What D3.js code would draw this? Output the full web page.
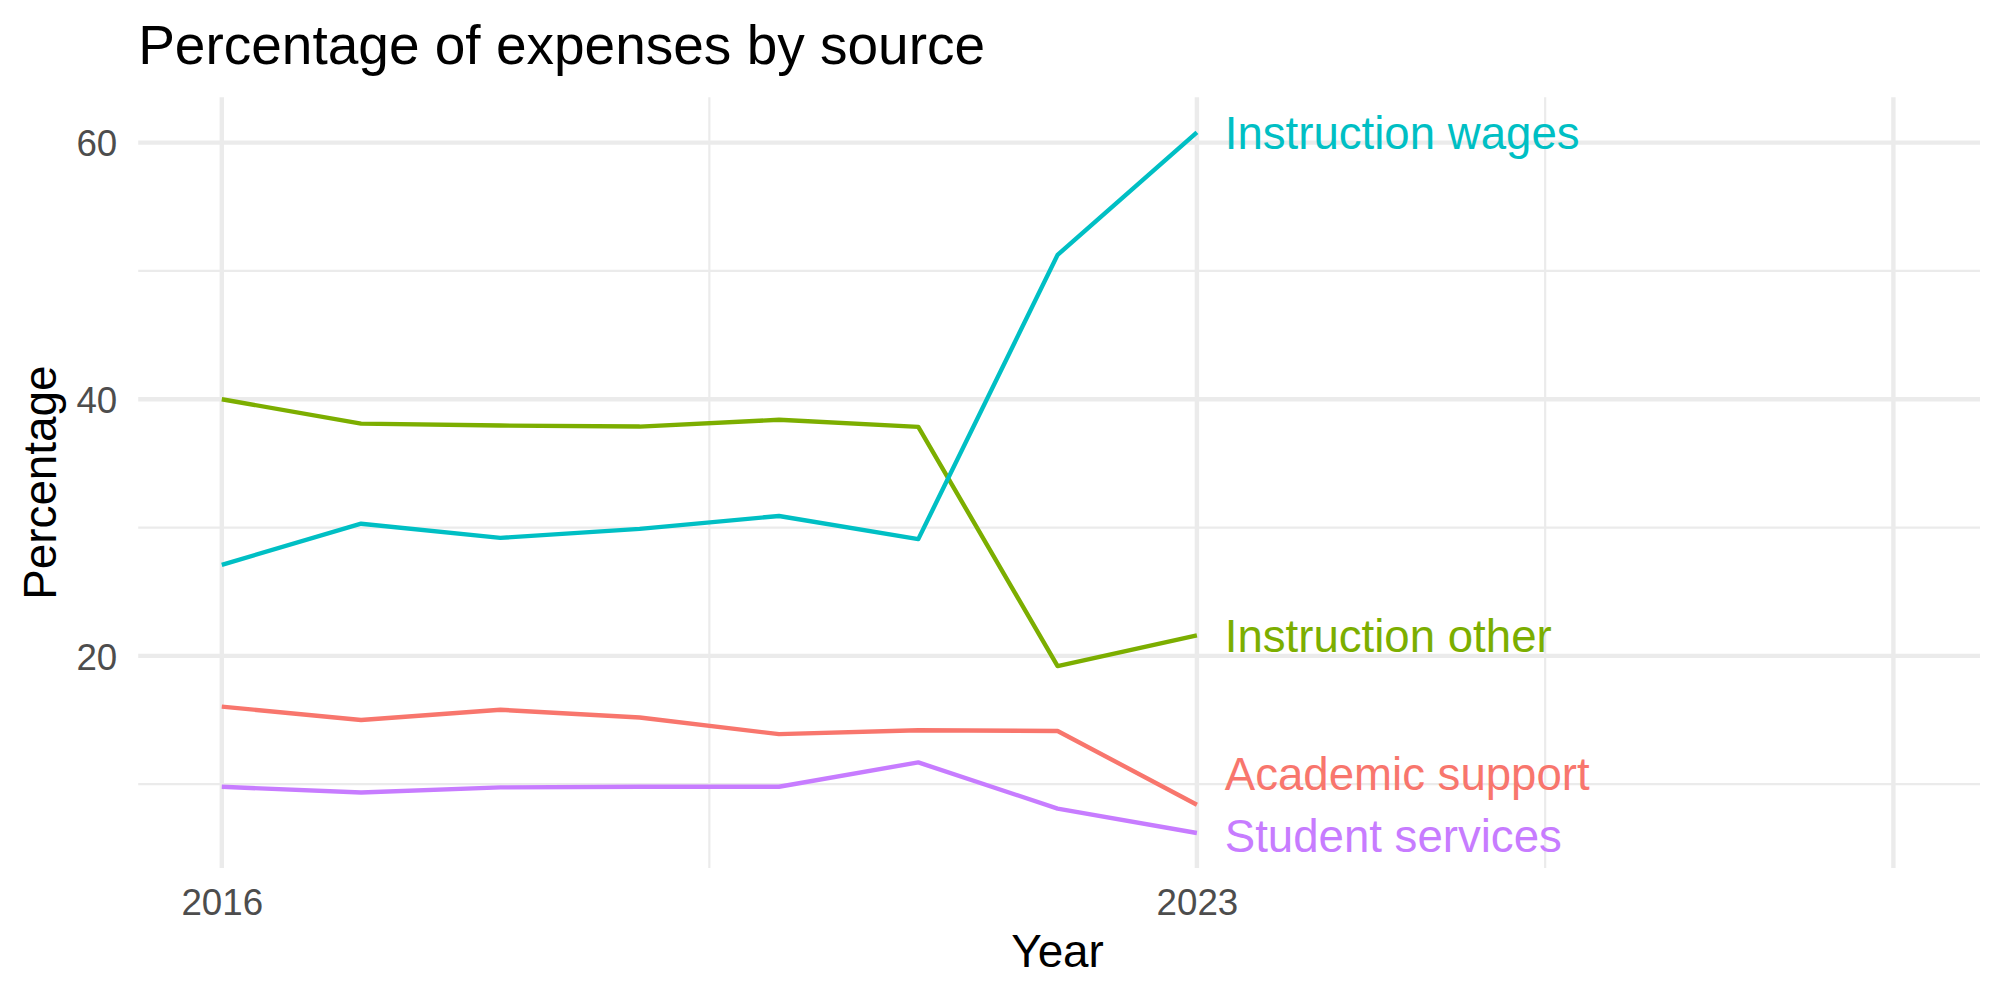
<!DOCTYPE html>
<html>
<head>
<meta charset="utf-8">
<script src="https://cdn.jsdelivr.net/npm/d3@7"></script>
<style>
  html, body { margin: 0; padding: 0; background: #fff; }
  svg { display: block; font-family: "Liberation Sans", Arial, Helvetica, sans-serif; }
</style>
</head>
<body>
<svg id="chart" width="2000" height="1000"></svg>
<script>
const years = [2016, 2017, 2018, 2019, 2020, 2021, 2022, 2023];

const academicSupport = [16.05, 15.0, 15.8, 15.2, 13.9, 14.2, 14.15, 8.4];
const instructionOther = [40.0, 38.1, 37.95, 37.87, 38.4, 37.85, 19.2, 21.6];
const instructionWages = [27.1, 30.3, 29.2, 29.9, 30.9, 29.1, 51.25, 60.8];
const studentServices = [9.8, 9.35, 9.75, 9.8, 9.8, 11.7, 8.1, 6.2];

const seriesNames = ["Academic support", "Instruction other", "Instruction wages", "Student services"];
const seriesColors = ["#F8766D", "#7CAE00", "#00BFC4", "#C77CFF"];
// label positions after repel (value units)
const labelX = 2023.2;
const labelY = [10.8, 21.6, 60.78, 6.0];

const xLimits = [2016, 2028];
const xMajor = [2016, 2023, 2028];
const xMajorLabels = ["2016", "2023", ""];
const xMinor = [2019.5, 2025.5];
const yMajor = [20, 40, 60];
const yMinor = [10, 30, 50];

const series = [academicSupport, instructionOther, instructionWages, studentServices].map((vals, i) => ({
  name: seriesNames[i],
  color: seriesColors[i],
  labelY: labelY[i],
  values: years.map((y, j) => ({ year: y, value: vals[j] })),
}));

const panel = { left: 138.2, right: 1977, top: 97.3, bottom: 868 };

const svg = d3.select("#chart");

const xPad = (xLimits[1] - xLimits[0]) * 0.05;
const x = d3.scaleLinear()
  .domain([xLimits[0] - xPad, xLimits[1] + xPad])
  .range([panel.left, panel.right]);

const allVals = series.flatMap((s) => s.values.map((d) => d.value));
const yMin = d3.min(allVals), yMax = d3.max(allVals);
const yPad = (yMax - yMin) * 0.05;
const y = d3.scaleLinear()
  .domain([yMin - yPad, yMax + yPad])
  .range([panel.bottom, panel.top]);

const grid = svg.append("g").attr("stroke", "#EBEBEB").attr("fill", "none");

// minor grid
grid.selectAll("line.ymin").data(yMinor).enter().append("line")
  .attr("x1", panel.left).attr("x2", panel.right + 3)
  .attr("y1", (d) => y(d)).attr("y2", (d) => y(d))
  .attr("stroke-width", 2.2);
grid.selectAll("line.xmin").data(xMinor).enter().append("line")
  .attr("y1", panel.top).attr("y2", panel.bottom)
  .attr("x1", (d) => x(d)).attr("x2", (d) => x(d))
  .attr("stroke-width", 2.2);

// major grid
grid.selectAll("line.ymaj").data(yMajor).enter().append("line")
  .attr("x1", panel.left).attr("x2", panel.right + 3)
  .attr("y1", (d) => y(d)).attr("y2", (d) => y(d))
  .attr("stroke-width", 4.4);
grid.selectAll("line.xmaj").data(xMajor).enter().append("line")
  .attr("y1", panel.top).attr("y2", panel.bottom)
  .attr("x1", (d) => x(d)).attr("x2", (d) => x(d))
  .attr("stroke-width", 4.4);

// axes
const xAxis = d3.axisBottom(x)
  .tickValues(xMajor)
  .tickFormat((d, i) => xMajorLabels[i])
  .tickSize(0)
  .tickPadding(0);

const gx = svg.append("g")
  .attr("transform", `translate(0,${panel.bottom})`)
  .call(xAxis);
gx.select(".domain").remove();
gx.selectAll("text")
  .attr("y", 47)
  .attr("dy", null)
  .attr("fill", "#4D4D4D")
  .attr("font-size", 36.7)
  .attr("font-family", "Liberation Sans, Arial, sans-serif");

const yAxis = d3.axisLeft(y)
  .tickValues(yMajor)
  .tickFormat(d3.format("d"))
  .tickSize(0)
  .tickPadding(21);

const gy = svg.append("g")
  .attr("transform", `translate(${panel.left},0)`)
  .call(yAxis);
gy.select(".domain").remove();
gy.selectAll("text")
  .attr("dy", "0.36em")
  .attr("fill", "#4D4D4D")
  .attr("font-size", 36.7)
  .attr("font-family", "Liberation Sans, Arial, sans-serif");

// lines
const line = d3.line().x((d) => x(d.year)).y((d) => y(d.value));

svg.append("g").selectAll("path")
  .data(series)
  .enter()
  .append("path")
  .attr("fill", "none")
  .attr("stroke", (d) => d.color)
  .attr("stroke-width", 4.4)
  .attr("stroke-linejoin", "round")
  .attr("d", (d) => line(d.values));

// end labels
svg.append("g").selectAll("text")
  .data(series)
  .enter()
  .append("text")
  .attr("x", x(labelX))
  .attr("y", (d) => y(d.labelY))
  .attr("dy", "0.36em")
  .attr("fill", (d) => d.color)
  .attr("font-size", 45.6)
  .text((d) => d.name);

// titles
svg.append("text")
  .attr("x", panel.left)
  .attr("y", 64)
  .attr("font-size", 55)
  .attr("fill", "#000")
  .text("Percentage of expenses by source");

svg.append("text")
  .attr("x", (panel.left + panel.right) / 2)
  .attr("y", 966.5)
  .attr("text-anchor", "middle")
  .attr("font-size", 45.8)
  .attr("fill", "#000")
  .text("Year");

svg.append("text")
  .attr("transform", `translate(56,${(panel.top + panel.bottom) / 2}) rotate(-90)`)
  .attr("text-anchor", "middle")
  .attr("font-size", 45.8)
  .attr("fill", "#000")
  .text("Percentage");
</script>
</body>
</html>
